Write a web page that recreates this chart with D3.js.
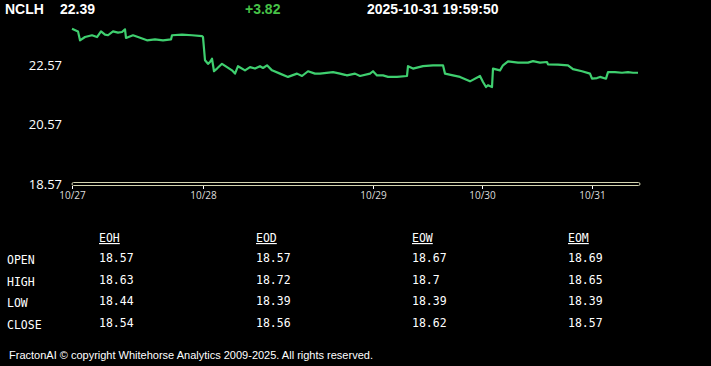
<!DOCTYPE html>
<html>
<head>
<meta charset="utf-8">
<script src="https://cdn.jsdelivr.net/npm/d3@7"></script>
<style>
  body { margin: 0; background: #000; }
  svg { display: block; }
</style>
</head>
<body>
<svg id="chart" width="711" height="366"></svg>
<script>
var symbol = "NCLH";
var lastPrice = "22.39";
var change = "+3.82";
var stamp = "2025-10-31 19:59:50";

var yTicks = [18.57, 20.57, 22.57];
var days = ["10/27", "10/28", "10/29", "10/30", "10/31"];
var dayStart = [0, 131, 301, 410, 520];
var lastBar = 566;

// bar index / price
var bars = [0, 6, 8, 13, 20, 25, 29, 33, 36, 41, 46, 50, 53, 54, 61, 66, 75, 83, 91, 99, 100, 110, 120, 130,
  131, 133, 136, 138, 140, 142, 145, 150, 155, 160, 163, 166, 173, 178, 183, 188, 191, 195, 200, 208, 216,
  225, 230, 236, 243, 248, 261, 268, 273, 275, 283, 288, 298, 301, 305, 311, 316, 325, 335, 336, 341, 351,
  361, 371, 373, 381, 388, 398, 408, 411, 414, 416, 420, 421, 428, 431, 436, 446, 456, 461, 468, 475, 476,
  486, 496, 501, 510, 518, 520, 525, 528, 534, 536, 543, 550, 556, 561, 566];
var prices = [23.79, 23.70, 23.40, 23.51, 23.57, 23.51, 23.70, 23.59, 23.57, 23.70, 23.66, 23.68, 23.77, 23.48,
  23.57, 23.51, 23.40, 23.43, 23.40, 23.43, 23.57, 23.59, 23.57, 23.54,
  23.51, 22.73, 22.61, 22.67, 22.78, 22.36, 22.45, 22.61, 22.50, 22.39, 22.28, 22.53, 22.39, 22.50, 22.45,
  22.53, 22.47, 22.56, 22.39, 22.28, 22.17,
  22.28, 22.20, 22.36, 22.28, 22.28, 22.33, 22.28, 22.24, 22.22, 22.28, 22.20, 22.28, 22.36, 22.22, 22.22,
  22.17, 22.17, 22.20, 22.53, 22.45, 22.53,
  22.56, 22.56, 22.28, 22.22, 22.17, 22.02, 22.20, 22.00, 21.83, 21.89, 21.83, 22.45, 22.39, 22.56, 22.69,
  22.65, 22.65, 22.70, 22.65, 22.67, 22.59,
  22.58, 22.56, 22.43, 22.36, 22.28, 22.11, 22.13, 22.17, 22.11, 22.33, 22.33, 22.31, 22.33, 22.31, 22.31];

var rowNames = ["OPEN", "HIGH", "LOW", "CLOSE"];
var colNames = ["EOH", "EOD", "EOW", "EOM"];
var eoh = [18.57, 18.63, 18.44, 18.54];
var eod = [18.57, 18.72, 18.39, 18.56];
var eow = [18.67, 18.7, 18.39, 18.62];
var eom = [18.69, 18.65, 18.39, 18.57];

var svg = d3.select("#chart");
svg.append("rect").attr("width", 711).attr("height", 366).attr("fill", "#000");

// header
var head = svg.append("g")
  .style("font-family", "'Liberation Sans', Arial, sans-serif")
  .style("font-weight", "bold")
  .style("font-size", "14px");
head.append("text").attr("x", 5).attr("y", 14).attr("fill", "#fff").text(symbol);
head.append("text").attr("x", 60).attr("y", 14).attr("fill", "#fff").text(lastPrice);
head.append("text").attr("x", 245).attr("y", 14).attr("fill", "#47c247").text(change);
head.append("text").attr("x", 367).attr("y", 14).attr("fill", "#fff").text(stamp);

var x = d3.scaleLinear().domain([0, lastBar]).range([72, 638]);
var y = d3.scaleLinear().domain([18.57, 22.57]).range([184, 65]);

// y labels
var yAxis = svg.append("g")
  .attr("transform", "translate(62,0)")
  .call(d3.axisLeft(y).tickValues(yTicks).tickSize(0).tickPadding(0).tickFormat(d3.format(".2f")));
yAxis.select(".domain").remove();
yAxis.selectAll("text")
  .attr("fill", "#fff")
  .style("font-family", "'Open Sans', sans-serif")
  .style("font-size", "13px");

// x axis: double rail + day ticks
svg.append("rect")
  .attr("x", 72).attr("y", 182.5).attr("width", 568).attr("height", 3).attr("rx", 1.5)
  .attr("fill", "none").attr("stroke", "#d4d4b0").attr("stroke-width", 1);

var xAxis = svg.append("g")
  .attr("transform", "translate(0,186)")
  .call(d3.axisBottom(x).tickValues(dayStart).tickSize(3).tickPadding(3)
    .tickFormat(function (d, i) { return days[i]; }));
xAxis.select(".domain").remove();
xAxis.selectAll("line").attr("stroke", "#fff");
xAxis.selectAll("text")
  .attr("fill", "#ddd")
  .style("font-family", "'Open Sans', sans-serif")
  .style("font-size", "10px");

// price line
var line = d3.line()
  .x(function (d, i) { return x(bars[i]); })
  .y(function (d) { return y(d); });
svg.append("path")
  .datum(prices)
  .attr("d", line)
  .attr("fill", "none")
  .attr("stroke", "#3fcf6f")
  .attr("stroke-width", 2.2)
  .attr("stroke-linejoin", "round");

// table
var colX = [99, 256, 412, 568];
var rowY = [264, 286, 307, 329];
var table = [eoh, eod, eow, eom];
var tbl = svg.append("g")
  .style("font-family", "'DejaVu Sans Mono', monospace")
  .style("font-size", "11.5px")
  .attr("fill", "#fff");

tbl.selectAll("text.col")
  .data(colNames)
  .join("text")
  .attr("class", "col")
  .attr("x", function (d, i) { return colX[i]; })
  .attr("y", 242)
  .attr("text-decoration", "underline")
  .text(function (d) { return d; });

tbl.selectAll("text.row")
  .data(rowNames)
  .join("text")
  .attr("class", "row")
  .attr("x", 7)
  .attr("y", function (d, i) { return rowY[i]; })
  .text(function (d) { return d; });

table.forEach(function (vals, c) {
  tbl.selectAll("text.v" + c)
    .data(vals)
    .join("text")
    .attr("class", "v" + c)
    .attr("x", colX[c])
    .attr("y", function (d, i) { return rowY[i] - 2; })
    .text(function (d) { return String(d); });
});

// footer
svg.append("text")
  .attr("x", 9).attr("y", 359)
  .attr("fill", "#fff")
  .style("font-family", "'Liberation Sans', Arial, sans-serif")
  .style("font-size", "11px")
  .text("FractonAI \u00a9 copyright Whitehorse Analytics 2009-2025. All rights reserved.");
</script>
</body>
</html>
